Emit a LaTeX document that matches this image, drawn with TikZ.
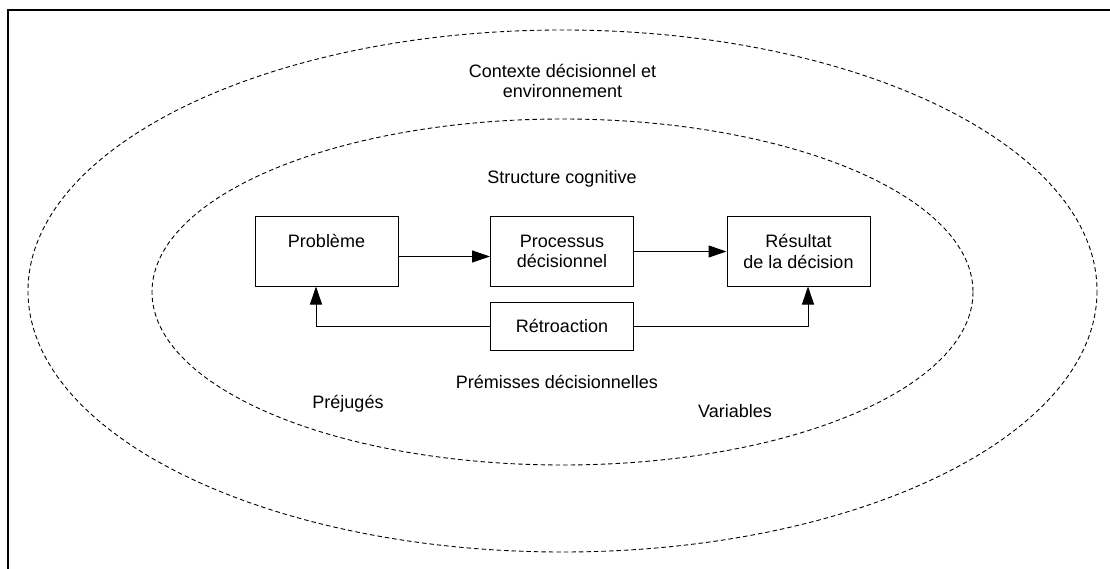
\documentclass[tikz,border=0pt]{standalone}
\usepackage{fontspec}
\setmainfont{Liberation Sans}
\usetikzlibrary{arrows.meta}
\begin{document}
\begin{tikzpicture}[x=1pt,y=-1pt,
  every node/.style={font=\fontsize{18}{20.5}\selectfont, inner sep=0pt},
  zone/.style={draw, dashed, dash pattern=on 4.5pt off 3pt, line width=0.9pt},
  box/.style={draw, line width=1pt, rectangle, minimum width=143pt, align=center},
  flow/.style={line width=1pt, -{Triangle[length=18pt,width=12pt]}}]
\useasboundingbox (0,0) rectangle (1110,569);
% frame
\draw[line width=1.2pt] (8,569) -- (8,10) -- (1110,10);
% zones
\draw[zone] (562.5,291) ellipse [x radius=534.5, y radius=261];
\draw[zone] (562.5,292) ellipse [x radius=410.5, y radius=173];
% labels
\node[align=center] (ctx) at (562.5,81) {Contexte décisionnel et\\environnement};
\node (struct) at (562,179) {Structure cognitive};
\node (prem) at (557,382) {Prémisses décisionnelles};
\node (prej) at (348,404) {Préjugés};
\node (var) at (735,411) {Variables};
% boxes
\node[box, minimum height=69pt] (prob) at (326.5,251.5) {Problème\\\mbox{}};
\node[box, minimum height=69pt] (proc) at (562,251.5) {Processus\\décisionnel};
\node[box, minimum height=69pt] (res) at (798.5,251.5) {Résultat\\de la décision};
\node[box, minimum height=48pt] (retro) at (562,326) {Rétroaction};
% connectors
\draw[flow] ([yshift=-5pt]prob.east) -- ([yshift=-5pt]proc.west);
\draw[flow] (proc.east) -- (res.west);
\draw[flow] (retro.west) -| ([xshift=-10.5pt]prob.south);
\draw[flow] (retro.east) -| ([xshift=9.5pt]res.south);
\end{tikzpicture}
\end{document}
